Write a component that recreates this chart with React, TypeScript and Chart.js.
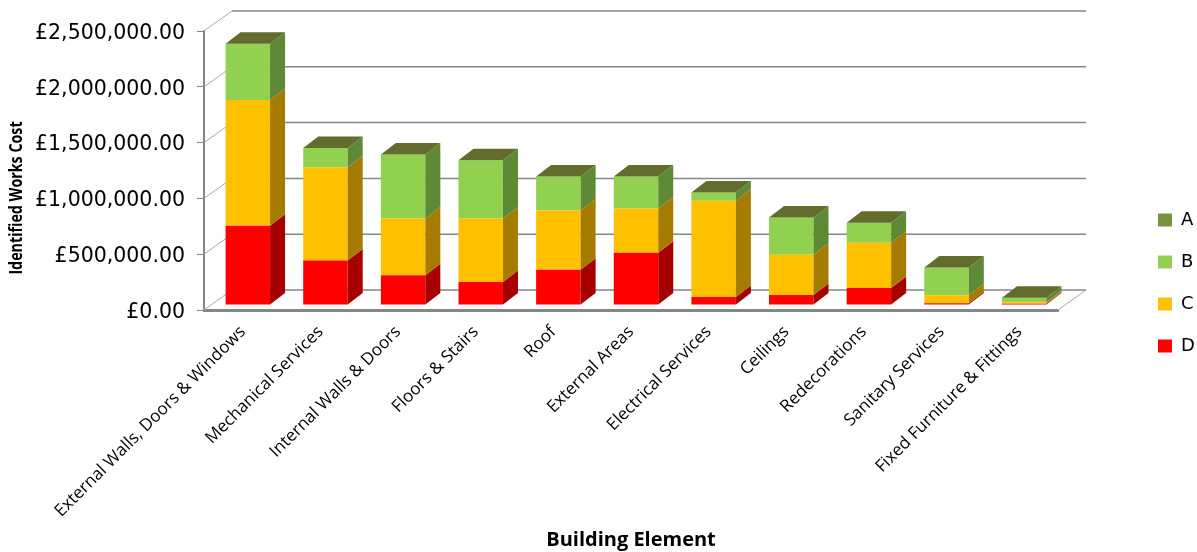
import React, { useEffect, useRef } from "react";
import { Chart, registerables } from "chart.js";

Chart.register(...registerables);

const categories = [
  "External Walls, Doors & Windows",
  "Mechanical Services",
  "Internal Walls & Doors",
  "Floors & Stairs",
  "Roof",
  "External Areas",
  "Electrical Services",
  "Ceilings",
  "Redecorations",
  "Sanitary Services",
  "Fixed Furniture & Fittings",
];

const conditionD = [710000, 398000, 267000, 207000, 315000, 468000, 72000, 90000, 153000, 15000, 12000];
const conditionC = [1128000, 837000, 509000, 567000, 531000, 396000, 863000, 360000, 405000, 72000, 12000];
const conditionB = [504000, 171000, 572000, 522000, 306000, 288000, 72000, 333000, 180000, 248000, 40000];
const conditionA = [0, 0, 0, 0, 0, 0, 0, 0, 0, 0, 0];

const faceColours = { A: "#77933C", B: "#92D050", C: "#FFC000", D: "#FF0000" };
const sideColours = ["#A60000", "#A67C00", "#5F8A35", "#5F7A2E"];
const topColour = "#636C2D";
const axisGrey = "#868686";

// Projection of the 3D box: wall depth, bar depth and the bars' inset from the front of the floor.
const WALL = { dx: 28, dy: -20 };
const BAR = { dx: 15, dy: -11.5 };
const INSET = { dx: 5, dy: -5 };

const VALUE_FONT = '"DejaVu Sans", sans-serif';
const LABEL_FONT = '"Open Sans", sans-serif';

const money = (v: number) =>
  "£" + v.toLocaleString("en-GB", { minimumFractionDigits: 2, maximumFractionDigits: 2 });

const box3d = {
  id: "box3d",
  beforeLayout(chart: any) {
    // Reserve a fixed margin for the legend whatever its text measures.
    const legend = chart.legend;
    if (legend && !legend.__fixed) {
      const fit = legend.fit.bind(legend);
      legend.fit = () => {
        fit();
        legend.width = 139;
      };
      legend.__fixed = true;
    }
  },
  beforeDraw(chart: any) {
    // Legend sits clear of the plot, in the far right margin.
    if (chart.legend) {
      const pad = chart.legend.options.labels.padding;
      chart.legend.left = 1158 - pad;
      chart.legend.top = 211 - pad;
    }
  },
  beforeDatasetsDraw(chart: any) {
    const { ctx, chartArea, scales } = chart;
    const { left, right } = chartArea;
    ctx.save();
    // Back wall and side wall rules, one per value tick.
    scales.y.ticks.forEach((t: any) => {
      const y = scales.y.getPixelForValue(t.value);
      ctx.beginPath();
      ctx.strokeStyle = "#A8A8A8";
      ctx.lineWidth = 1;
      ctx.moveTo(left, y);
      ctx.lineTo(left + WALL.dx, y + WALL.dy);
      ctx.stroke();
      ctx.beginPath();
      ctx.strokeStyle = axisGrey;
      ctx.lineWidth = 1.5;
      ctx.moveTo(left + WALL.dx, y + WALL.dy);
      ctx.lineTo(right + WALL.dx, y + WALL.dy);
      ctx.stroke();
    });
    // Right-hand edge of the floor.
    const y0 = scales.y.getPixelForValue(0);
    ctx.beginPath();
    ctx.strokeStyle = "#A8A8A8";
    ctx.lineWidth = 1;
    ctx.moveTo(right, y0);
    ctx.lineTo(right + WALL.dx, y0 + WALL.dy);
    ctx.stroke();
    ctx.restore();

    ctx.save();
    ctx.translate(INSET.dx, INSET.dy);
  },
  afterDatasetsDraw(chart: any) {
    const { ctx, data } = chart;
    data.datasets.forEach((_: any, di: number) => {
      chart.getDatasetMeta(di).data.forEach((bar: any) => {
        const { x, y, base, width } = bar.getProps(["x", "y", "base", "width"], true);
        const r = x + width / 2;
        const l = x - width / 2;
        ctx.fillStyle = sideColours[di];
        ctx.beginPath();
        ctx.moveTo(r, y);
        ctx.lineTo(r + BAR.dx, y + BAR.dy);
        ctx.lineTo(r + BAR.dx, base + BAR.dy);
        ctx.lineTo(r, base);
        ctx.closePath();
        ctx.fill();
        if (di === data.datasets.length - 1) {
          ctx.fillStyle = topColour;
          ctx.beginPath();
          ctx.moveTo(l, y);
          ctx.lineTo(l + BAR.dx, y + BAR.dy);
          ctx.lineTo(r + BAR.dx, y + BAR.dy);
          ctx.lineTo(r, y);
          ctx.closePath();
          ctx.fill();
        }
      });
    });
    ctx.restore();
  },
  afterDraw(chart: any) {
    // Value axis caption, centred on the bars rather than on the axis, and condensed along its run.
    const { ctx } = chart;
    ctx.save();
    ctx.translate(17, 198);
    ctx.rotate(-Math.PI / 2);
    ctx.scale(0.84, 1);
    ctx.font = 'bold 17px "Open Sans", sans-serif';
    ctx.fillStyle = "#000";
    ctx.textAlign = "center";
    ctx.textBaseline = "middle";
    ctx.fillText("Identified Works Cost", 0, 0);
    ctx.restore();
  },
};

export default function App() {
  const canvasRef = useRef<HTMLCanvasElement>(null);

  useEffect(() => {
    const chart = new Chart(canvasRef.current!, {
      type: "bar",
      data: {
        labels: categories,
        datasets: [
          { label: "D", data: conditionD, backgroundColor: faceColours.D, clip: false },
          { label: "C", data: conditionC, backgroundColor: faceColours.C, clip: false },
          { label: "B", data: conditionB, backgroundColor: faceColours.B, clip: false },
          { label: "A", data: conditionA, backgroundColor: faceColours.A, clip: false },
        ],
      } as any,
      options: {
        responsive: false,
        animation: false,
        devicePixelRatio: 1,
        layout: { padding: { top: 31, left: 0, right: 0, bottom: 0 } },
        datasets: { bar: { categoryPercentage: 1, barPercentage: 0.573 } },
        plugins: {
          tooltip: { enabled: false },
          legend: {
            position: "right",
            align: "start",
            reverse: true,
            labels: {
              boxWidth: 14,
              boxHeight: 13,
              padding: 24,
              color: "#000",
              font: { family: VALUE_FONT, size: 18 },
            },
          },
        },
        scales: {
          x: {
            stacked: true,
            afterFit: (s: any) => {
              s.height = 242;
            },
            grid: { display: false },
            border: { color: axisGrey, width: 3 },
            ticks: {
              minRotation: 45,
              maxRotation: 45,
              autoSkip: false,
              padding: 4,
              color: "#000",
              font: { family: LABEL_FONT, size: 17 },
            },
            title: {
              display: true,
              text: "Building Element",
              color: "#000",
              font: { family: LABEL_FONT, size: 20, weight: "bold" },
              padding: { top: 0, bottom: 0 },
            },
          },
          y: {
            stacked: true,
            min: 0,
            max: 2500000,
            afterFit: (s: any) => {
              s.width = 204;
            },
            grid: { drawOnChartArea: false, color: axisGrey, tickLength: 7, tickColor: axisGrey },
            border: { color: axisGrey, width: 2 },
            ticks: {
              stepSize: 500000,
              padding: 12,
              labelOffset: 2.5,
              color: "#000",
              font: { family: VALUE_FONT, size: 20.5 },
              callback: (v: any) => money(Number(v)),
            },
          },
        },
      } as any,
      plugins: [box3d as any],
    });
    return () => chart.destroy();
  }, []);

  return (
    <div style={{ position: "absolute", left: 0, top: 0, width: 1197, height: 552 }}>
      <canvas ref={canvasRef} width={1197} height={552} style={{ display: "block" }} />
    </div>
  );
}
